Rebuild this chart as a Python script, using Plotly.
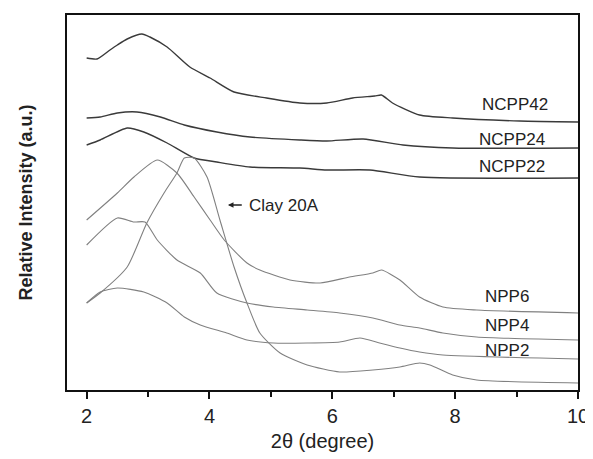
import plotly.graph_objects as go

# ---- data (2theta in degrees, relative intensity in arbitrary units) ----
ncpp42_x = [2.0, 2.17, 2.38, 2.5, 2.66, 2.9, 3.03, 3.31, 3.68, 4.01, 4.4, 4.93, 5.47, 5.91, 6.33, 6.69, 6.8, 6.98, 7.42, 7.96, 9.05, 10.0]
ncpp42_y = [332, 331, 340, 345, 351, 356, 353, 343, 323, 312, 298, 292, 287, 287, 292, 294, 295, 287, 275, 272, 269, 268]

ncpp24_x = [2.0, 2.22, 2.5, 2.82, 3.2, 3.59, 4.12, 4.66, 5.47, 5.91, 6.5, 7.15, 7.96, 10.0]
ncpp24_y = [272, 273, 277, 278, 273, 265, 258, 253, 250, 249, 251, 245, 242, 242]

ncpp22_x = [2.0, 2.22, 2.66, 2.93, 3.31, 3.75, 4.12, 4.66, 5.47, 5.91, 6.61, 7.42, 10.0]
ncpp22_y = [245, 250, 262, 258, 247, 232, 228, 223, 222, 220, 220, 213, 212]

npp6_x = [2.0, 2.5, 2.77, 3.15, 3.47, 3.75, 4.01, 4.24, 4.61, 4.82, 5.31, 5.8, 6.28, 6.66, 6.8, 7.1, 7.42, 7.8, 8.35, 10.0]
npp6_y = [170, 197, 213, 230, 217, 193, 170, 150, 127, 120, 110, 107, 113, 117, 120, 110, 93, 83, 80, 77]

npp4_x = [2.0, 2.5, 2.77, 2.95, 3.15, 3.47, 3.85, 4.12, 4.61, 5.04, 5.59, 6.12, 6.66, 7.1, 7.42, 7.8, 8.35, 10.0]
npp4_y = [145, 172, 168, 168, 150, 130, 117, 97, 87, 83, 80, 77, 72, 65, 62, 57, 53, 50]

npp2_x = [2.0, 2.22, 2.5, 2.93, 3.31, 3.59, 3.85, 4.28, 4.61, 5.04, 5.59, 6.12, 6.45, 6.77, 7.1, 7.42, 7.8, 10.0]
npp2_y = [87, 98, 102, 98, 87, 73, 65, 57, 50, 47, 47, 48, 52, 47, 42, 38, 35, 31]

clay_x = [2.0, 2.22, 2.66, 2.98, 3.26, 3.47, 3.59, 3.75, 3.96, 4.17, 4.4, 4.61, 4.82, 5.15, 5.59, 6.12, 6.66, 7.1, 7.42, 7.59, 7.96, 8.35, 10.0]
clay_y = [87, 97, 123, 167, 197, 217, 232, 232, 213, 170, 123, 87, 57, 37, 25, 18, 20, 23, 27, 25, 15, 10, 7]

x_ticks = [2, 4, 6, 8, 10]
x_minor_ticks = [3, 5, 7, 9]

dark = "#3a3a3a"
light = "#808080"

fig = go.Figure()
for xs, ys, col, w in [
    (ncpp42_x, ncpp42_y, dark, 1.4),
    (ncpp24_x, ncpp24_y, dark, 1.4),
    (ncpp22_x, ncpp22_y, dark, 1.4),
    (npp6_x, npp6_y, light, 1.1),
    (npp4_x, npp4_y, light, 1.1),
    (npp2_x, npp2_y, light, 1.1),
    (clay_x, clay_y, light, 1.1),
]:
    fig.add_trace(go.Scatter(x=xs, y=ys, mode="lines",
                             line=dict(color=col, width=w, shape="spline", smoothing=0.6),
                             showlegend=False, hoverinfo="skip"))

lab_font = dict(family="Liberation Sans, Arial, sans-serif", size=17, color="#222")
labels = [("NCPP42", 8.97, 286), ("NCPP24", 8.92, 251), ("NCPP22", 8.92, 224),
          ("NPP6", 8.84, 94), ("NPP4", 8.85, 65), ("NPP2", 8.84, 40)]
for t, x, y in labels:
    fig.add_annotation(x=x, y=y, text=t, showarrow=False, font=lab_font,
                       xanchor="center", yanchor="middle")

fig.add_annotation(x=4.61, y=185, text="Clay 20A", showarrow=False, font=lab_font,
                   xanchor="left", yanchor="middle")
fig.add_annotation(x=4.30, y=185, ax=4.55, ay=185, axref="x", ayref="y", text="",
                   showarrow=True, arrowhead=2, arrowsize=0.7, arrowwidth=1.6, arrowcolor="#222")

# page body adds an 8px offset; margins compensate so the plot area lands at x 67-578, y 15-390
fig.update_layout(
    width=593, height=459,
    margin=dict(l=59, r=23, t=7, b=77),
    paper_bgcolor="white", plot_bgcolor="white",
    font=dict(family="Liberation Sans, Arial, sans-serif", color="#222"),
    xaxis=dict(range=[1.68, 10.0], tickvals=x_ticks, ticks="outside", ticklen=7, tickwidth=2,
               tickcolor="#111", showline=True, linecolor="#111", linewidth=2, mirror=True,
               showgrid=False, zeroline=False, tickfont=dict(size=20), automargin=False,
               minor=dict(tickvals=x_minor_ticks, ticks="outside", ticklen=5, tickwidth=2, tickcolor="#111"),
               title=dict(text="2θ (degree)", font=dict(size=20), standoff=8)),
    yaxis=dict(range=[0, 375], showticklabels=False, ticks="", showline=True, linecolor="#111",
               linewidth=2, mirror=True, showgrid=False, zeroline=False, automargin=False,
               title=dict(text="<b>Relative Intensity (a.u.)</b>", font=dict(size=18), standoff=28)),
)

fig.write_html("out.html")
